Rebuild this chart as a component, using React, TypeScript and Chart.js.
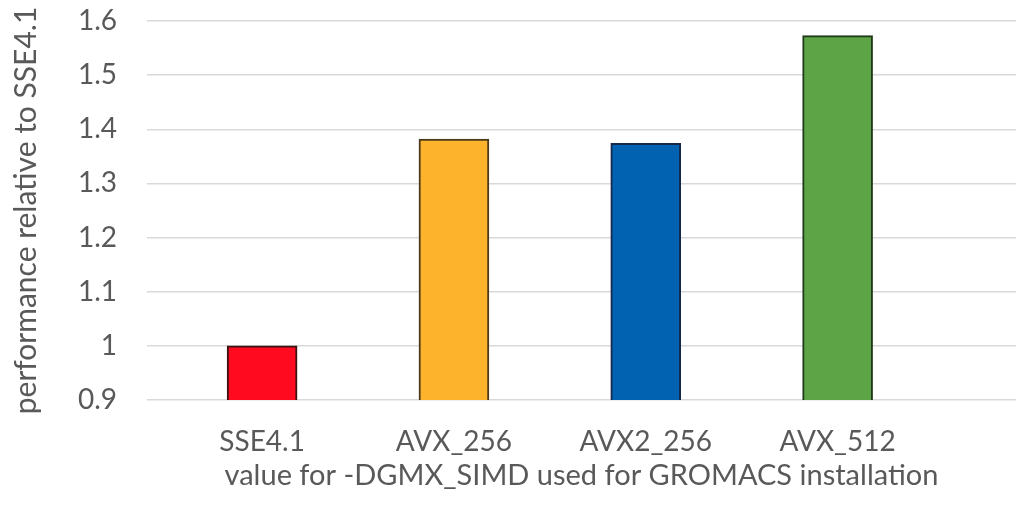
import React, { useEffect, useRef } from "react";
import { Chart, registerables } from "chart.js";

Chart.register(...registerables);

const categories: string[] = ["SSE4.1", "AVX_256", "AVX2_256", "AVX_512"];
const performance: number[] = [1.0, 1.382, 1.374, 1.573];
const barColors: string[] = ["#FF0A1E", "#FDB42C", "#0062B0", "#5CA445"];
const barBorders: string[] = ["#3a1210", "#4a3a18", "#13284a", "#1f3a1a"];
const yMin = 0.9;
const yMax = 1.6;
const yStep = 0.1;
const xTitle = "value for -DGMX_SIMD used for GROMACS installation";
const yTitle = "performance relative to SSE4.1";

const FONT = "Lato, 'Noto Sans', sans-serif";
const TEXT = "#595959";
const FS = 28;

export default function App() {
  const ref = useRef<HTMLCanvasElement | null>(null);

  useEffect(() => {
    if (!ref.current) return;
    const chart = new Chart(ref.current, {
      type: "bar",
      data: {
        datasets: [
          {
            data: performance.map((v, i) => ({ x: i, y: v })) as any,
            backgroundColor: barColors,
            borderColor: barBorders,
            borderWidth: 2,
            barThickness: 70,
          },
        ],
      },
      options: {
        animation: false,
        responsive: true,
        maintainAspectRatio: false,
        layout: { padding: { top: 21, right: 0, left: 0, bottom: 0 } },
        plugins: {
          legend: { display: false },
          tooltip: { enabled: false },
        },
        scales: {
          x: {
            type: "linear",
            min: -0.6,
            max: 3.93,
            offset: false,
            grid: { display: false },
            border: { display: false },
            afterBuildTicks: (scale: any) => {
              scale.ticks = categories.map((_, i) => ({ value: i }));
            },
            afterFit: (scale: any) => {
              scale.height = 106;
              scale.paddingLeft = 0;
              scale.paddingRight = 0;
            },
            ticks: {
              autoSkip: false,
              maxRotation: 0,
              padding: 17,
              color: TEXT,
              font: { family: FONT, size: FS },
              callback: (v: any) => categories[v as number] ?? "",
            },
            title: {
              display: true,
              text: xTitle,
              color: TEXT,
              font: { family: FONT, size: 29 },
              padding: { top: 0, bottom: 13 },
            },
          },
          y: {
            min: yMin,
            max: yMax,
            grid: { color: "#d9d9d9", lineWidth: 1.5, drawTicks: false },
            border: { display: false },
            afterFit: (scale: any) => {
              scale.width = 147;
              scale.paddingTop = 0;
              scale.paddingBottom = 0;
            },
            ticks: {
              stepSize: yStep,
              padding: 30,
              color: TEXT,
              font: { family: FONT, size: FS },
              callback: (v: any) => String(parseFloat(Number(v).toFixed(1))),
            },
            title: {
              display: true,
              text: yTitle,
              color: TEXT,
              font: { family: FONT, size: 30 },
              padding: { top: 8, bottom: 0 },
            },
          },
        },
      },
    });
    return () => chart.destroy();
  }, []);

  return (
    <div style={{ position: "fixed", left: 0, top: 0, width: 1016, height: 506, background: "#fff" }}>
      <canvas ref={ref} />
    </div>
  );
}
